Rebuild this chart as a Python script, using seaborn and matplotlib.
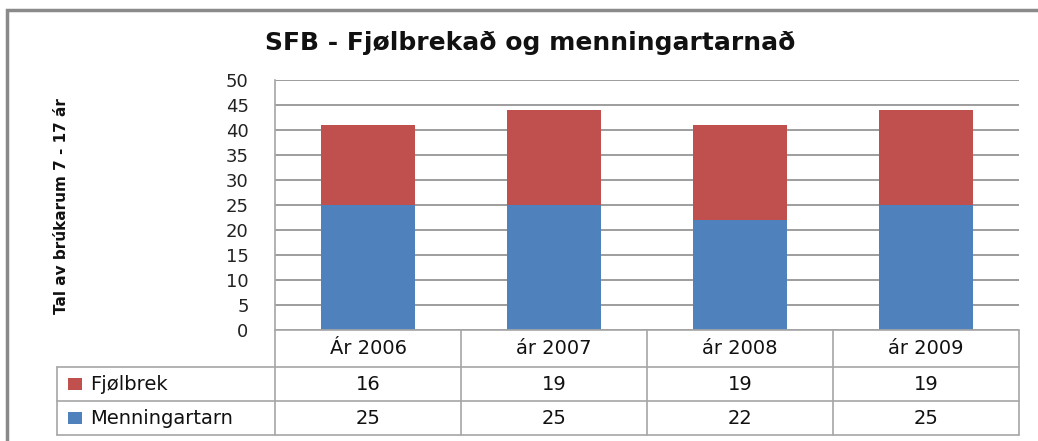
import matplotlib
matplotlib.use("Agg")
import matplotlib.pyplot as plt
import matplotlib.transforms as mtransforms
from matplotlib.lines import Line2D
from matplotlib.patches import Rectangle
import seaborn as sns
import pandas as pd

categories = ["Ár 2006", "ár 2007", "ár 2008", "ár 2009"]
fjolbrek = [16, 19, 19, 19]
menningartarn = [25, 25, 22, 25]
series_names = ["Fjølbrek", "Menningartarn"]
yticks = [0, 5, 10, 15, 20, 25, 30, 35, 40, 45, 50]

RED = "#C0504D"
BLUE = "#4F81BD"
GRID = "#8c8c8c"
TABLE = "#a6a6a6"

sns.set_theme(style="white")
plt.rcParams["font.family"] = ["DejaVu Sans"]

W, H = 1038, 441
fig = plt.figure(figsize=(W / 100, H / 100), dpi=100)

def fx(x):
    return x / W

def fy(y):
    return 1 - y / H

# plot area: x 275..1019, y 80..330
ax = fig.add_axes([fx(275), fy(330), fx(1019) - fx(275), (330 - 80) / H])

df = pd.DataFrame({
    "cat": categories,
    "total": [a + b for a, b in zip(fjolbrek, menningartarn)],
    "men": menningartarn,
})

sns.barplot(data=df, x="cat", y="total", color=RED, width=0.51, ax=ax,
            saturation=1, edgecolor="none", zorder=3)
sns.barplot(data=df, x="cat", y="men", color=BLUE, width=0.51, ax=ax,
            saturation=1, edgecolor="none", zorder=4)

ax.set_xlim(-0.5, 3.5)
ax.set_ylim(0, 50)
ax.set_yticks(yticks)
ax.set_yticklabels([str(v) for v in yticks], fontsize=13, color="#222222")
ax.tick_params(axis="y", length=0, pad=19)
ax.set_xticks([])
ax.set_xlabel("")
ax.set_ylabel("")
ax.yaxis.grid(True, color=GRID, linewidth=1.2, zorder=0)
ax.set_axisbelow(True)
for s in ["top", "right", "bottom"]:
    ax.spines[s].set_visible(False)
ax.spines["left"].set_color(TABLE)
ax.spines["left"].set_linewidth(1.2)

# title and y label
fig.text(fx(530), fy(43), "SFB - Fjølbrekað og menningartarnað",
         ha="center", va="center", fontsize=18, fontweight="bold",
         color="#111111")
fig.text(fx(62), fy(206), "Tal av brúkarum 7 - 17 ár", rotation=90,
         ha="center", va="center", fontsize=11, fontweight="bold",
         color="#111111")

# outer frame (left and top visible)
fig.patches.append(Rectangle((fx(7), fy(460)), 1.2, fy(10) - fy(460),
                             transform=fig.transFigure, fill=False,
                             edgecolor="#8a8a8a", linewidth=2.5))

# data table
blend = mtransforms.blended_transform_factory(ax.transData, fig.transFigure)

def hline(y, x0px, x1px):
    fig.lines.append(Line2D([fx(x0px), fx(x1px)], [fy(y), fy(y)],
                            transform=fig.transFigure, color=TABLE, linewidth=1.2))

def vline(x, y0, y1, data=True):
    if data:
        fig.lines.append(Line2D([x, x], [fy(y0), fy(y1)], transform=blend,
                                color=TABLE, linewidth=1.2))
    else:
        fig.lines.append(Line2D([fx(x), fx(x)], [fy(y0), fy(y1)],
                                transform=fig.transFigure, color=TABLE, linewidth=1.2))

hline(330, 275, 1019)
hline(367, 57, 1019)
hline(401, 57, 1019)
hline(435, 57, 1019)
vline(57, 367, 435, data=False)
for b in [-0.5, 0.5, 1.5, 2.5, 3.5]:
    vline(b, 330, 435)

row_y = [384, 418]
values = [fjolbrek, menningartarn]
colors = [RED, BLUE]
for i, cat in enumerate(categories):
    ax.text(i, fy(349), cat, transform=blend, ha="center", va="center",
            fontsize=14, color="#111111", clip_on=False)
    for r in range(2):
        ax.text(i, fy(row_y[r]), str(values[r][i]), transform=blend,
                ha="center", va="center", fontsize=14, color="#111111",
                clip_on=False)

for r in range(2):
    fig.patches.append(Rectangle((fx(68), fy(row_y[r] + 6)), fx(14), 12 / H,
                                 transform=fig.transFigure, facecolor=colors[r],
                                 edgecolor="none"))
    fig.text(fx(90), fy(row_y[r]), series_names[r], ha="left", va="center",
             fontsize=14, color="#111111")

fig.savefig("out.png", dpi=100, facecolor="white")
